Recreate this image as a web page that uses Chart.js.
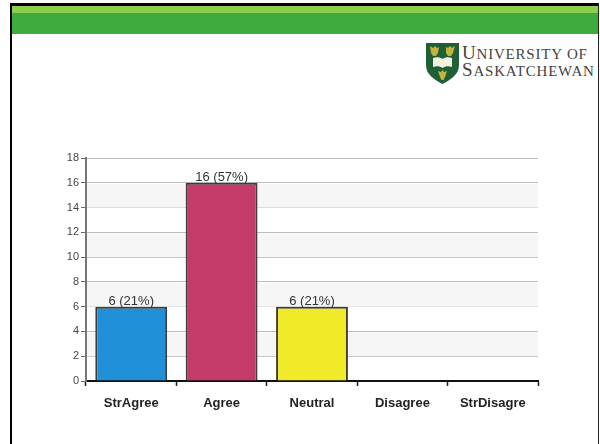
<!DOCTYPE html>
<html>
<head>
<meta charset="utf-8">
<style>
  html, body { margin: 0; padding: 0; background: #fff; }
  #page { position: relative; width: 600px; height: 444px; overflow: hidden; background: #fff; }
  #border-left { position: absolute; left: 10px; top: 3px; width: 2px; height: 441px; background: #000; }
  #border-top { position: absolute; left: 10px; top: 3px; width: 589px; height: 3px; background: #000; }
  #border-right { position: absolute; left: 598px; top: 3px; width: 1px; height: 441px; background: #222; }
  #bar-light { position: absolute; left: 12px; top: 6px; width: 586px; height: 7px; background: #8ccf4f; }
  #bar-dark { position: absolute; left: 12px; top: 13px; width: 586px; height: 21px; background: #3fab3f; }
  #logo-text { position: absolute; left: 462px; top: 45px; font: 19px/16px "Liberation Serif", serif; color: #444; letter-spacing: 0.8px; white-space: nowrap; }
  #logo-text small { font-size: 15px; }
  #shield { position: absolute; left: 426px; top: 43px; }
  canvas { position: absolute; left: 0; top: 0; }
</style>
</head>
<body>
<div id="page">
  <div id="bar-light"></div>
  <div id="bar-dark"></div>
  <div id="border-left"></div>
  <div id="border-top"></div>
  <div id="border-right"></div>
  <svg id="shield" width="33" height="41" viewBox="0 0 33 41">
    <path d="M0 0H33V22C33 32 24 37 16.500 41C9 37 0 32 0 22Z" fill="#1f5f35"/>
    <path d="M4 3l3 2 2-2 2 2 2-1-1 6-2 3h-3l-2-3z M20 4l2 1 2-2 2 2 3-2-2 7-2 3h-3l-2-3z M12 28l3 1 1.500-2 1.500 2 3-1-2 6-1.500 3h-2l-1.500-3z" fill="#c5b23f"/>
    <path d="M7 15c3-1 7-1 9.500 1c2.500-2 6.500-2 9.500-1v9c-3-1-7-1-9.500 1c-2.500-2-6.500-2-9.500-1z" fill="#f4f1df"/>
  </svg>
  <div id="logo-text">U<small>NIVERSITY OF</small><br>S<small>ASKATCHEWAN</small></div>
  <canvas id="chart" width="600" height="444"></canvas>
</div>
<script src="https://cdn.jsdelivr.net/npm/chart.js@4"></script>
<script>
// Werte
const categories = ['StrAgree', 'Agree', 'Neutral', 'Disagree', 'StrDisagre'];
const counts = [6, 16, 6, 0, 0];
const percents = [21, 57, 21, 0, 0];
const barColors = ['#2090d8', '#c43a68', '#f0ea28', '#888888', '#888888'];
const yTicks = [0, 2, 4, 6, 8, 10, 12, 14, 16, 18];

// graue Streifen hinter den Balken
const bandPlugin = {
    id: 'bands',
    beforeDatasetsDraw(chart) {
        const { ctx, chartArea, scales } = chart;
        ctx.save();
        ctx.fillStyle = '#f6f6f6';
        for (let i = 0; i < yTicks.length - 1; i++) {
            if (i % 2 === 0) continue;
            const top = scales.y.getPixelForValue(yTicks[i + 1]);
            const bottom = scales.y.getPixelForValue(yTicks[i]);
            ctx.fillRect(chartArea.left, top + 1, chartArea.right - chartArea.left, bottom - top - 1);
        }
        ctx.restore();
    }
};

// Beschriftung ueber den Balken
const labelPlugin = {
    id: 'barLabels',
    afterDatasetsDraw(chart) {
        const { ctx } = chart;
        const bars = chart.getDatasetMeta(0).data;
        ctx.save();
        ctx.font = '13px "Liberation Sans", sans-serif';
        ctx.fillStyle = '#333';
        ctx.textAlign = 'center';
        ctx.textBaseline = 'bottom';
        bars.forEach((bar, i) => {
            if (counts[i] === 0) return;
            ctx.fillText(counts[i] + ' (' + percents[i] + '%)', bar.x, bar.y + 1);
        });
        ctx.restore();
    }
};

new Chart(document.getElementById('chart').getContext('2d'), {
    type: 'bar',
    data: {
        labels: categories,
        datasets: [{
            data: counts,
            backgroundColor: barColors,
            borderColor: '#3c3c3c',
            borderWidth: 2,
            categoryPercentage: 1,
            barPercentage: 0.795
        }]
    },
    options: {
        responsive: false,
        animation: false,
        layout: { padding: { left: 0, right: 62, top: 158, bottom: 0 } },
        plugins: { legend: { display: false }, tooltip: { enabled: false } },
        scales: {
            x: {
                afterFit(scale) { scale.height = 63; },
                border: { color: '#111', width: 2 },
                grid: { drawOnChartArea: false, offset: true, tickLength: 5, tickColor: '#222', tickWidth: 1.5 },
                ticks: {
                    color: '#222',
                    padding: 10,
                    maxRotation: 0,
                    font: { family: '"Liberation Sans", sans-serif', size: 13, weight: 'bold' }
                }
            },
            y: {
                min: 0,
                max: 18,
                afterFit(scale) { scale.width = 86; },
                afterBuildTicks(scale) { scale.ticks = yTicks.map(v => ({ value: v })); },
                border: { color: '#777', width: 2, z: 1 },
                grid: { color: '#bdbdbd', tickColor: '#666', tickLength: 5, lineWidth: 1 },
                ticks: {
                    color: '#444',
                    padding: 2,
                    font: { family: '"Liberation Sans", sans-serif', size: 11 }
                }
            }
        }
    },
    plugins: [bandPlugin, labelPlugin]
});
</script>
</body>
</html>
